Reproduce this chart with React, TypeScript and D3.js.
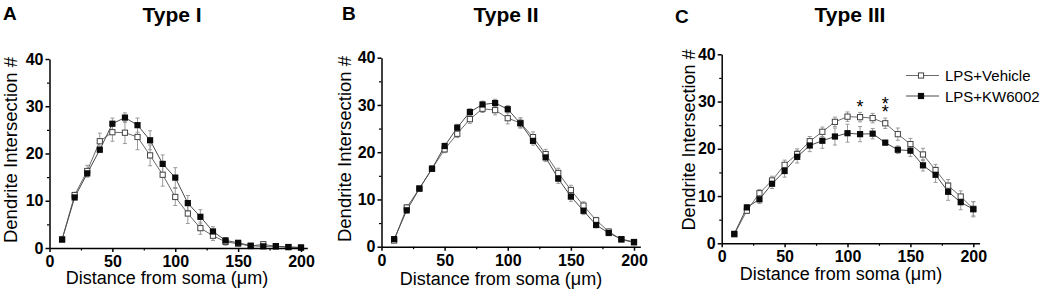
import React, { useEffect, useRef } from "react";
import * as d3 from "d3";

const FONT = "'Liberation Sans', Arial, Helvetica, sans-serif";

const distances = [10, 20, 30, 40, 50, 60, 70, 80, 90, 100, 110, 120, 130, 140, 150, 160, 170, 180, 190, 200];
const seriesNames = ["LPS+Vehicle", "LPS+KW6002"];
const panelTitles = ["Type I", "Type II", "Type III"];
const panelLetters = ["A", "B", "C"];
const xTicks = [0, 50, 100, 150, 200];
const xMinorTicks = [25, 75, 125, 175];
const yTicks = [0, 10, 20, 30, 40];
const yMinorTicks = [5, 15, 25, 35];
const xLabel = "Distance from soma (μm)";
const yLabel = "Dendrite Intersection #";

const typeIVehicle = [1.8, 11.2, 16.3, 22.6, 24.5, 24.4, 23.5, 19.6, 15.5, 10.8, 7.3, 4.2, 2.6, 1.3, 0.9, 0.4, 0.8, 0.3, 0.2, 0.1];
const typeIVehicleSem = [0.3, 0.6, 1.2, 1.7, 1.9, 2.3, 2.7, 2.2, 2.4, 1.8, 2.1, 1.3, 1.0, 0.7, 0.5, 0.3, 0.4, 0.2, 0.1, 0.1];
const typeIKW = [1.8, 10.7, 15.8, 20.8, 26.3, 27.6, 26.0, 22.8, 17.8, 14.9, 9.5, 6.6, 3.5, 1.6, 1.1, 0.5, 0.35, 0.4, 0.2, 0.1];
const typeIKWSem = [0.3, 0.5, 0.8, 0.6, 1.2, 1.0, 1.5, 2.0, 1.9, 2.1, 1.6, 1.5, 1.0, 0.6, 0.4, 0.3, 0.2, 0.2, 0.1, 0.1];

const typeIIVehicle = [1.3, 8.3, 12.3, 16.5, 20.6, 23.9, 27.0, 29.2, 28.9, 27.2, 26.2, 23.2, 19.6, 15.6, 12.0, 8.7, 5.6, 3.2, 1.5, 0.9];
const typeIIVehicleSem = [0.3, 0.6, 0.5, 0.6, 0.7, 0.8, 0.9, 0.8, 1.0, 1.2, 1.1, 1.1, 1.0, 1.0, 1.0, 0.8, 0.6, 0.5, 0.4, 0.3];
const typeIIKW = [1.6, 7.7, 12.3, 16.5, 21.3, 25.2, 28.5, 30.1, 30.4, 29.1, 26.1, 22.4, 18.9, 14.4, 10.6, 7.6, 4.6, 2.9, 1.6, 1.0];
const typeIIKWSem = [0.3, 0.6, 0.5, 0.5, 0.6, 0.7, 0.7, 0.7, 0.8, 0.8, 0.9, 0.9, 0.9, 1.0, 1.0, 0.8, 0.6, 0.5, 0.4, 0.3];

const typeIIIVehicle = [1.9, 6.9, 10.6, 13.3, 16.6, 18.9, 21.6, 23.6, 25.7, 26.8, 26.7, 26.5, 25.4, 23.1, 21.0, 18.8, 15.5, 12.2, 9.9, 7.3];
const typeIIIVehicleSem = [0.4, 0.6, 0.8, 0.9, 1.0, 1.1, 1.0, 1.0, 1.0, 1.0, 1.0, 1.0, 1.1, 1.3, 1.2, 1.3, 1.2, 1.3, 1.2, 1.5];
const typeIIIKW = [2.0, 7.6, 9.3, 12.6, 15.3, 18.3, 20.7, 21.7, 22.6, 23.3, 23.1, 23.2, 21.3, 19.8, 19.6, 16.5, 14.5, 10.9, 8.7, 7.2];
const typeIIIKWSem = [0.4, 0.6, 0.9, 1.0, 1.3, 1.3, 1.3, 1.6, 1.8, 1.9, 1.6, 1.1, 0.5, 0.8, 1.2, 1.2, 1.6, 1.8, 1.6, 1.6];

// significance marks (Type III): distance and number of asterisks
const sigDistances = [110, 130];
const sigStars = [1, 2];

type Layout = {
  x0: number; x200: number; y0: number; y40: number;
  titleX: number; titleY: number; letterX: number; letterY: number;
  xLabelX: number; xLabelY: number; yLabelX: number; yLabelY: number; yLabelSize: number;
};

const layouts: Layout[] = [
  { x0: 49.5, x200: 301, y0: 248, y40: 59, titleX: 172, titleY: 21.5, letterX: 3, letterY: 20, xLabelX: 167, xLabelY: 284, yLabelX: 17, yLabelY: 150, yLabelSize: 18.5 },
  { x0: 381.5, x200: 634, y0: 246.7, y40: 57.7, titleX: 506, titleY: 21.5, letterX: 342, letterY: 20, xLabelX: 501, xLabelY: 284.5, yLabelX: 351, yLabelY: 149, yLabelSize: 18.5 },
  { x0: 721.7, x200: 973.3, y0: 243.3, y40: 54.3, titleX: 850, titleY: 22, letterX: 675, letterY: 23, xLabelX: 841, xLabelY: 279.5, yLabelX: 695, yLabelY: 140, yLabelSize: 18 },
];

type PanelData = { vehicle: number[]; vehicleSem: number[]; kw: number[]; kwSem: number[] };
const panelData: PanelData[] = [
  { vehicle: typeIVehicle, vehicleSem: typeIVehicleSem, kw: typeIKW, kwSem: typeIKWSem },
  { vehicle: typeIIVehicle, vehicleSem: typeIIVehicleSem, kw: typeIIKW, kwSem: typeIIKWSem },
  { vehicle: typeIIIVehicle, vehicleSem: typeIIIVehicleSem, kw: typeIIIKW, kwSem: typeIIIKWSem },
];

function Axis({ scale, orient, major, minor, transform }: any) {
  const ref = useRef<SVGGElement>(null);
  useEffect(() => {
    const g = d3.select(ref.current);
    g.selectAll("*").remove();
    const mk = () => (orient === "bottom" ? d3.axisBottom(scale) : d3.axisLeft(scale));
    const minorGen = mk().tickValues(minor).tickSize(2.5).tickSizeOuter(0).tickFormat(() => "");
    const gen = mk()
      .tickValues(major)
      .tickSize(4)
      .tickSizeOuter(0)
      .tickPadding(orient === "bottom" ? 3.5 : 2)
      .tickFormat(d3.format("d") as any);
    const gm = g.append("g").call(minorGen as any);
    gm.select(".domain").remove();
    gm.selectAll("line").attr("stroke", "#000").attr("stroke-width", 1.2);
    const ga = g.append("g").call(gen as any);
    ga.attr("font-family", FONT).attr("font-size", 16).attr("font-weight", "bold");
    ga.selectAll("path, line").attr("stroke", "#000").attr("stroke-width", 1.5);
    ga.selectAll("text").attr("fill", "#000");
  }, [scale, orient, major, minor]);
  return <g ref={ref} transform={transform} />;
}

function Panel({ idx }: { idx: number }) {
  const L = layouts[idx];
  const D = panelData[idx];
  const k = (L.x200 - L.x0) / 200;
  const x = d3.scaleLinear().domain([0, 205]).range([L.x0, L.x0 + 205 * k]);
  const y = d3.scaleLinear().domain([0, 40]).range([L.y0, L.y40]);
  const line = d3.line<number>().x((_, i) => x(distances[i])).y((v) => y(v));
  const sq = 6.2;
  const cap = 2;

  const errBars = (vals: number[], sems: number[], key: string) =>
    vals.map((v, i) => {
      const cx = x(distances[i]);
      const top = y(v + sems[i]);
      const bot = y(Math.max(0, v - sems[i]));
      return (
        <g key={key + i} stroke="#9a9a9a" strokeWidth={1}>
          <line x1={cx} x2={cx} y1={top} y2={bot} />
          <line x1={cx - cap} x2={cx + cap} y1={top} y2={top} />
          <line x1={cx - cap} x2={cx + cap} y1={bot} y2={bot} />
        </g>
      );
    });

  return (
    <g>
      <text x={L.letterX} y={L.letterY} fontFamily={FONT} fontWeight="bold" fontSize={19}>{panelLetters[idx]}</text>
      <text x={L.titleX} y={L.titleY} textAnchor="middle" fontFamily={FONT} fontWeight="bold" fontSize={21}>{panelTitles[idx]}</text>

      {errBars(D.vehicle, D.vehicleSem, "ve")}
      {errBars(D.kw, D.kwSem, "ke")}
      <path d={line(D.vehicle) || ""} fill="none" stroke="#6a6a6a" strokeWidth={1} />
      <path d={line(D.kw) || ""} fill="none" stroke="#4a4a4a" strokeWidth={1} />
      {D.vehicle.map((v, i) => (
        <rect key={"v" + i} x={x(distances[i]) - sq / 2 + 0.5} y={y(v) - sq / 2 + 0.5} width={sq - 1} height={sq - 1} fill="#fff" stroke="#444" strokeWidth={1} />
      ))}
      {D.kw.map((v, i) => (
        <rect key={"k" + i} x={x(distances[i]) - sq / 2} y={y(v) - sq / 2} width={sq} height={sq} fill="#0a0a0a" />
      ))}

      <Axis scale={x} orient="bottom" major={xTicks} minor={xMinorTicks} transform={`translate(0,${L.y0})`} />
      <Axis scale={y} orient="left" major={yTicks} minor={yMinorTicks} transform={`translate(${L.x0},0)`} />

      <text x={L.xLabelX} y={L.xLabelY} textAnchor="middle" fontFamily={FONT} fontSize={18}>{xLabel}</text>
      <text transform={`translate(${L.yLabelX},${L.yLabelY}) rotate(-90)`} textAnchor="middle" fontFamily={FONT} fontSize={L.yLabelSize}>{yLabel}</text>

      {idx === 2 && (
        <g>
          {sigDistances.map((dist, j) => {
            const i = distances.indexOf(dist);
            const top = y(D.vehicle[i] + D.vehicleSem[i]);
            return Array.from({ length: sigStars[j] }).map((_, s) => (
              <text key={"s" + j + s} x={x(dist)} y={top - 10 - s * 8.7 + 10.3} textAnchor="middle" fontFamily={FONT} fontSize={18}>*</text>
            ));
          })}
          {seriesNames.map((name, j) => {
            const ly = j === 0 ? 75.5 : 96;
            const lx1 = 906, lx2 = 939, mx = 921;
            return (
              <g key={name}>
                <line x1={lx1} x2={lx2} y1={ly} y2={ly} stroke={j === 0 ? "#6a6a6a" : "#4a4a4a"} strokeWidth={1} />
                {j === 0 ? (
                  <rect x={mx - sq / 2 + 0.5} y={ly - sq / 2 + 0.5} width={sq - 1} height={sq - 1} fill="#fff" stroke="#444" strokeWidth={1} />
                ) : (
                  <rect x={mx - sq / 2} y={ly - sq / 2} width={sq} height={sq} fill="#0a0a0a" />
                )}
                <text x={945} y={ly + 5.5} fontFamily={FONT} fontSize={15}>{name}</text>
              </g>
            );
          })}
        </g>
      )}
    </g>
  );
}

export default function App() {
  return (
    <svg width={1045} height={291} style={{ position: "absolute", left: 0, top: 0, background: "#fff" }}>
      <rect width={1045} height={291} fill="#fff" />
      {[0, 1, 2].map((i) => (
        <Panel key={i} idx={i} />
      ))}
    </svg>
  );
}
